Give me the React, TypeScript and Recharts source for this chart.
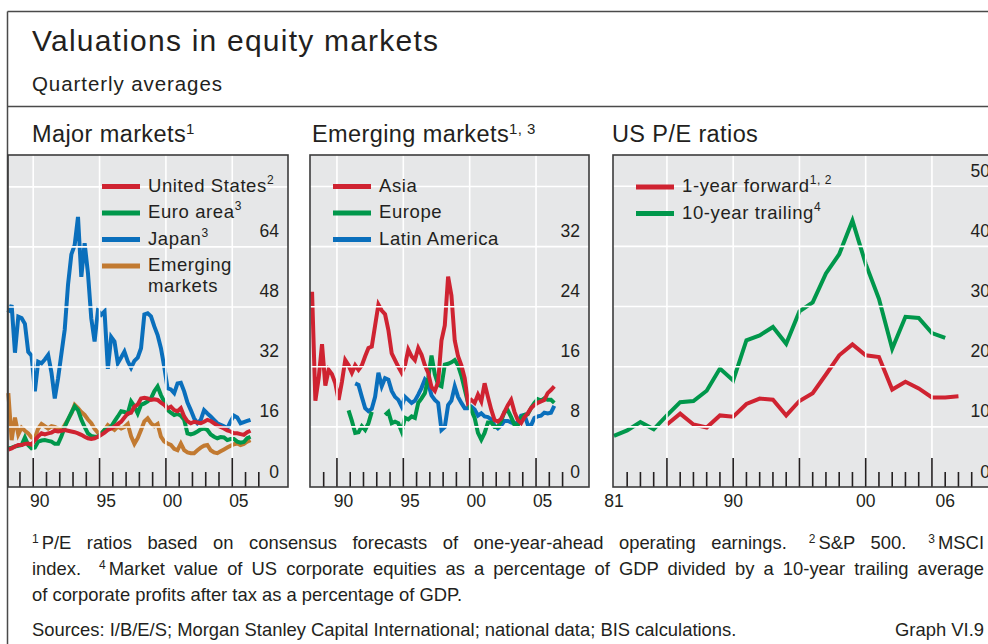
import React from 'react'
import { LineChart, Line, XAxis, YAxis } from 'recharts'

const FONT = '"Liberation Sans", Arial, Helvetica, sans-serif'
const INK = '#231f20'
const RED = '#cf2331'
const GREEN = '#00974b'
const BLUE = '#0a6fbc'
const ORANGE = '#c27a31'
const PANEL_BG = '#e6e7e8'
const BORDER = '#3c3c3c'

// quarterly averages, 1988 Q1 - 2006 Q2
const QUARTER_START = 1988

// Major markets
const unitedStates = [10, 10.3, 10.8, 11.2, 11.2, 11.5, 11.6, 11.3, 12.5, 13.5, 14.3, 14, 14.3, 14.5, 15, 14.8, 15, 15.2, 15, 14.8, 14.6, 14.3, 13.9, 13.4, 13, 12.8, 13, 13.4, 13.9, 14.5, 15.2, 15.6, 16.1, 16.8, 17.4, 18.5, 19.6, 19.8, 21.4, 22, 23.6, 23.8, 23.6, 23.2, 23.4, 23.2, 22.5, 21.9, 21, 21.4, 20.5, 20.2, 21, 18.8, 17.5, 17, 17.4, 17.2, 17, 17.4, 17.9, 17.6, 17, 16.4, 16, 15.6, 15.1, 14.8, 14.3, 14.3, 14.1, 13.9, 14.6, 15]
const euroArea = [10.3, 10.5, 10.8, 11, 11.2, 13.2, 11.2, 10.3, 10.5, 12.1, 12.4, 12.5, 12.3, 12.1, 11.5, 11.5, 13.5, 16, 18, 19.8, 21.5, 20.5, 18, 16, 14.3, 13.6, 13.4, 13.4, 14.2, 15.2, 15.6, 16.1, 17.5, 18.8, 20.2, 20, 19.6, 22.8, 21.5, 19.6, 21.9, 22.3, 22.8, 23.6, 25.5, 26.8, 24.5, 22.8, 20.5, 19.8, 19.2, 19.5, 19, 17.9, 14.3, 14, 14.3, 14.8, 15.4, 15.6, 15.2, 14, 13.4, 13, 13.3, 13.2, 12.5, 12.8, 12.8, 12.1, 11.8, 12, 13, 13.4]
const japan = [46.5, 48.5, 35.8, 45.4, 45, 43.5, 36, 35, 25.5, 33.4, 33, 34, 35.2, 30.5, 23.6, 29, 35.5, 42, 54, 62, 64.5, 72, 56, 65, 57, 45, 38.8, 47, 45.9, 46.8, 31.5, 40, 38.8, 33, 34.5, 36.1, 33.5, 31.8, 33.6, 34.5, 37, 46, 46.3, 45.5, 42.8, 40.5, 37, 32, 26.3, 26, 25, 27.6, 27.8, 25.5, 22.5, 20.5, 18.3, 17, 17.9, 20.5, 19.6, 18.8, 17.9, 17, 16.6, 16.2, 15.6, 17.5, 19, 18.5, 17, 17.3, 17.6, 17.9]
const emergingMarkets = [25, 12.5, 18.5, 14, 15.8, 15, 14.3, 13.2, 13, 15.6, 16.8, 16.2, 15.6, 16.2, 16, 15.6, 15.2, 16.5, 18, 19.6, 21.9, 21, 20, 19.2, 18, 17, 15.5, 14.5, 14.3, 15.2, 16.5, 15.8, 15.2, 16.1, 15.6, 16, 16.8, 13.5, 11.5, 13, 15.2, 17.5, 18.3, 17, 16.2, 16.8, 13.4, 12.1, 11.6, 11.2, 10.2, 9.8, 11.6, 9.8, 9.2, 9, 9, 9.8, 10.5, 11, 11.2, 9.8, 9.2, 9, 9.5, 10, 10.5, 11, 11.4, 11.6, 11.2, 11.5, 12.1, 12.5]

// Emerging markets
const asia = [26, 11.5, 14.5, 19, 13.5, 15.6, 15, 13.8, 11.6, 14, 16.9, 16.2, 15.2, 16.2, 15.6, 16.2, 17.4, 18.5, 18.7, 21.5, 24.3, 23.5, 23, 20.9, 17.8, 16.9, 16, 15.2, 16.2, 18.3, 17.4, 16.9, 18.5, 17.6, 16.2, 15.2, 13.3, 12.8, 14, 19.5, 21.5, 28, 25.5, 19.5, 17.4, 16.2, 14.5, 11.2, 11.6, 11.2, 12.3, 11.4, 13.8, 12, 10.3, 8.9, 8.7, 9.1, 10, 10.9, 11.6, 10, 8.9, 8.5, 9.3, 9.8, 10.5, 10.9, 11.2, 11.4, 11.6, 12.5, 12.9, 13.4]
const europe = [null, null, null, null, null, null, null, null, null, null, null, 10.2, 8.8, 7.2, 7.3, 8.1, 7.6, 8.5, 10, null, null, null, 9.6, 10, 8.5, 8.7, 8.5, 7.4, 9.2, 9, 9.4, 9.2, 11.2, 11.8, 12.5, 14.5, 17.5, 15, 13.6, 13.4, 16.3, 16.4, 16.6, 16.9, 16.2, 14.8, 13, 11.2, 10.2, 9.2, 7.2, 6.3, 7.2, 8.6, 8.6, 8, 8, 8.8, 10, 10.2, 9.3, 8.3, 8.2, 9.2, 9.6, 9.7, 10.5, 11.2, 11.7, 11.5, 11.8, 11.6, 11.6, 11.2]
const latinAmerica = [null, null, null, null, null, null, null, null, null, null, null, null, null, 13.8, 13.6, 12, 10.5, 10.1, 10.4, 12, 15.2, 13.4, 14.5, 14.3, 12.8, 12, 11.6, 10.7, 12, 11.6, 11.2, 11.5, 12.3, 13.2, 14.3, 13.8, 12.2, 11.6, 11.2, 7.6, 8, 10.9, 11.5, 13.4, 12, 11.2, 10.5, 10.5, 10.7, 10.3, 9.5, 9.8, 9.4, 9.3, 9, 8.2, 7.8, 8.2, 8.8, 8.8, 8.6, 8.4, 8.6, 9.5, 9.6, 8.3, 8.2, 9.2, 9.4, 9.5, 9.9, 9.8, 9.9, 10.8]

// US P/E ratios, annual
const usYears = [1981, 1982, 1983, 1984, 1985, 1986, 1987, 1988, 1989, 1990, 1991, 1992, 1993, 1994, 1995, 1996, 1997, 1998, 1999, 2000, 2001, 2002, 2003, 2004, 2005, 2006, 2007]
const forward1y = [null, null, null, null, 10.4, 12.2, 10.4, 9.9, 11.9, 11.7, 13.8, 14.7, 14.5, 11.9, 14.3, 15.6, 18.7, 21.9, 23.7, 21.9, 21.6, 16.2, 17.5, 16.4, 14.9, 14.9, 15.1]
const trailing10y = [8.5, 9.4, 10.8, 9.6, 11.9, 14.1, 14.3, 16, 19.7, 17.7, 24.4, 25.2, 26.6, 23.8, 29.2, 30.7, 35.5, 38.7, 44.3, 37.1, 31.3, 23, 28.3, 28.1, 25.6, 24.8, null]

const quarterX = (i: number) => QUARTER_START + i / 4 + 0.125

const majorData = unitedStates.map((v, i) => ({ x: quarterX(i), us: v, euro: euroArea[i], japan: japan[i], em: emergingMarkets[i] }))
const emergingData = asia.map((v, i) => ({ x: quarterX(i), asia: v, europe: europe[i], latam: latinAmerica[i] }))
const usData = usYears.map((y, i) => ({ x: y, fwd: forward1y[i], trail: trailing10y[i] }))

const PLOT_TOP = 155
const PLOT_H = 332
const AXIS_H = 34
const PAD = 16

const quarterTicks = [1989, 1990, 1991, 1992, 1993, 1994, 1995, 1996, 1997, 1998, 1999, 2000, 2001, 2002, 2003, 2004, 2005, 2006, 2007]
const annualTicks = [1981, 1982, 1983, 1984, 1985, 1986, 1987, 1988, 1989, 1990, 1991, 1992, 1993, 1994, 1995, 1996, 1997, 1998, 1999, 2000, 2001, 2002, 2003, 2004, 2005, 2006, 2007, 2008]

// year ticks: short/tall marks pointing up into the plot, white grid line on the 5-year marks
function makeXTick(labels: number[], shift: number, edge: number | null) {
  return (props: any) => {
    const { x, payload } = props
    const v = payload.value as number
    const tall = v % 5 === 0
    return (
      <g>
        {tall && <line x1={x} x2={x} y1={0} y2={PLOT_H} stroke="#ffffff" strokeWidth={1.6} />}
        {v !== edge && (
          <line x1={x} x2={x} y1={PLOT_H} y2={PLOT_H - (tall ? 29 : 15)} stroke={INK} strokeWidth={1.6} />
        )}
        {labels.includes(v) && (
          <text x={x + shift} y={PLOT_H + 20} textAnchor="middle" fontSize={17.5} fill={INK} fontFamily={FONT}>
            {String(v).slice(2)}
          </text>
        )}
      </g>
    )
  }
}

// value ticks: white grid line plus label sitting just above it, right aligned
function makeYTick(labels: number[], right: number) {
  return (props: any) => {
    const { y, payload } = props
    const v = payload.value as number
    return (
      <g>
        {v > 0 && <line x1={PAD} x2={right + 9} y1={y} y2={y} stroke="#ffffff" strokeWidth={1.6} />}
        {labels.includes(v) && (
          <text x={right} y={y - 9.5} textAnchor="end" fontSize={17.5} fill={INK} fontFamily={FONT}>
            {v}
          </text>
        )}
      </g>
    )
  }
}

interface Series { key: string; color: string }

interface PanelProps {
  left: number
  width: number
  data: any[]
  xDomain: [number, number]
  xTicks: number[]
  xLabels: number[]
  labelShift: number
  edgeTick: number | null
  yMax: number
  yTicks: number[]
  yLabels: number[]
  series: Series[]
}

function Panel(p: PanelProps) {
  const w = p.width + PAD
  return (
    <div style={{ position: 'absolute', left: p.left - PAD, top: PLOT_TOP, width: w, height: PLOT_H + AXIS_H }}>
      <LineChart width={w} height={PLOT_H + AXIS_H} data={p.data} margin={{ top: 0, right: 0, bottom: 0, left: PAD }}>
        <YAxis
          type="number"
          domain={[0, p.yMax]}
          ticks={p.yTicks}
          interval={0}
          orientation="right"
          mirror
          axisLine={false}
          tickLine={false}
          tick={makeYTick(p.yLabels, w - 9)}
        />
        <XAxis
          dataKey="x"
          type="number"
          domain={p.xDomain}
          ticks={p.xTicks}
          interval={0}
          height={AXIS_H}
          tickSize={0}
          tickMargin={0}
          axisLine={false}
          tickLine={false}
          tick={makeXTick(p.xLabels, p.labelShift, p.edgeTick)}
        />
        {p.series.map(s => (
          <Line
            key={s.key}
            type="linear"
            dataKey={s.key}
            stroke={s.color}
            strokeWidth={4}
            dot={false}
            activeDot={false}
            connectNulls={false}
            isAnimationActive={false}
          />
        ))}
      </LineChart>
    </div>
  )
}

const sup = (t: string, size = 12) => (
  <tspan fontSize={size} dy={-8}>{t}</tspan>
)

function LegendRow({ x, y, color, label, note }: { x: number; y: number; color: string; label: string; note?: string }) {
  return (
    <g>
      <rect x={x} y={y - 5} width={38} height={5} fill={color} />
      <text x={x + 46} y={y + 2.5} fontSize={18.5} letterSpacing={0.6} fill={INK} fontFamily={FONT}>
        {label}
        {note && sup(note)}
      </text>
    </g>
  )
}

const noteBase: React.CSSProperties = {
  position: 'absolute',
  left: 32,
  width: 952,
  fontSize: 18.4,
  lineHeight: '20px',
  color: INK,
  fontFamily: FONT,
  whiteSpace: 'nowrap',
}
const noteSup: React.CSSProperties = { fontSize: 12, position: 'relative', top: -6, marginRight: 3 }

export default function App() {
  return (
    <div style={{ position: 'absolute', left: 0, top: 0, width: 988, height: 644, overflow: 'hidden', background: '#fff', fontFamily: FONT }}>
      <svg width={988} height={644} style={{ position: 'absolute', left: 0, top: 0 }}>
        <rect x={8} y={PLOT_TOP} width={280} height={PLOT_H} fill={PANEL_BG} />
        <rect x={310} y={PLOT_TOP} width={279} height={PLOT_H} fill={PANEL_BG} />
        <rect x={613} y={PLOT_TOP} width={386} height={PLOT_H} fill={PANEL_BG} />
      </svg>

      <Panel
        left={8}
        width={280}
        data={majorData}
        xDomain={[1988.1, 2009.2]}
        xTicks={quarterTicks}
        xLabels={[1990, 1995, 2000, 2005]}
        labelShift={6.6}
        edgeTick={null}
        yMax={88.5}
        yTicks={[0, 16, 32, 48, 64, 80]}
        yLabels={[0, 16, 32, 48, 64]}
        series={[
          { key: 'em', color: ORANGE },
          { key: 'japan', color: BLUE },
          { key: 'euro', color: GREEN },
          { key: 'us', color: RED },
        ]}
      />
      <Panel
        left={310}
        width={279}
        data={emergingData}
        xDomain={[1987.97, 2008.99]}
        xTicks={quarterTicks}
        xLabels={[1990, 1995, 2000, 2005]}
        labelShift={6.6}
        edgeTick={null}
        yMax={44.2}
        yTicks={[0, 8, 16, 24, 32, 40]}
        yLabels={[0, 8, 16, 24, 32]}
        series={[
          { key: 'latam', color: BLUE },
          { key: 'europe', color: GREEN },
          { key: 'asia', color: RED },
        ]}
      />
      <Panel
        left={613}
        width={386}
        data={usData}
        xDomain={[1980.93, 2010.06]}
        xTicks={annualTicks}
        xLabels={[1981, 1990, 2000, 2006]}
        labelShift={0}
        edgeTick={1981}
        yMax={55.2}
        yTicks={[0, 10, 20, 30, 40, 50]}
        yLabels={[0, 10, 20, 30, 40, 50]}
        series={[
          { key: 'trail', color: GREEN },
          { key: 'fwd', color: RED },
        ]}
      />

      <svg width={988} height={644} style={{ position: 'absolute', left: 0, top: 0, pointerEvents: 'none' }} fontFamily={FONT}>
        {/* outer frame */}
        <line x1={7.5} y1={11.5} x2={988} y2={11.5} stroke="#4a4a4a" strokeWidth={1.5} />
        <line x1={7.5} y1={11.5} x2={7.5} y2={644} stroke="#4a4a4a" strokeWidth={1.5} />
        <line x1={7.5} y1={106.5} x2={988} y2={106.5} stroke="#4a4a4a" strokeWidth={1.5} />

        {/* plot borders */}
        <rect x={8} y={PLOT_TOP} width={280} height={PLOT_H} fill="none" stroke={BORDER} strokeWidth={1.6} />
        <rect x={310} y={PLOT_TOP} width={279} height={PLOT_H} fill="none" stroke={BORDER} strokeWidth={1.6} />
        <rect x={613} y={PLOT_TOP} width={386} height={PLOT_H} fill="none" stroke={BORDER} strokeWidth={1.6} />

        <text x={32} y={51} fontSize={30} fill={INK} textLength={406} lengthAdjust="spacing">Valuations in equity markets</text>
        <text x={32} y={91} fontSize={20.5} fill={INK} textLength={190} lengthAdjust="spacing">Quarterly averages</text>

        <text x={32} y={142} fontSize={23.5} fill={INK} letterSpacing={0.4}>Major markets{sup('1', 15)}</text>
        <text x={312} y={142} fontSize={23.5} fill={INK} letterSpacing={0.4}>Emerging markets{sup('1, 3', 15)}</text>
        <text x={612} y={142} fontSize={23.5} fill={INK} letterSpacing={0.4}>US P/E ratios</text>

        <LegendRow x={102} y={189} color={RED} label="United States" note="2" />
        <LegendRow x={102} y={215.5} color={GREEN} label="Euro area" note="3" />
        <LegendRow x={102} y={242} color={BLUE} label="Japan" note="3" />
        <LegendRow x={102} y={268.5} color={ORANGE} label="Emerging" />
        <text x={148} y={291.5} fontSize={18.5} letterSpacing={0.6} fill={INK}>markets</text>

        <LegendRow x={333} y={189} color={RED} label="Asia" />
        <LegendRow x={333} y={215.5} color={GREEN} label="Europe" />
        <LegendRow x={333} y={242} color={BLUE} label="Latin America" />

        <LegendRow x={636} y={189.5} color={RED} label="1-year forward" note="1, 2" />
        <LegendRow x={636} y={216} color={GREEN} label="10-year trailing" note="4" />
      </svg>

      {/* footnotes */}
      <div style={{ ...noteBase, top: 532.5, textAlign: 'justify', textAlignLast: 'justify', whiteSpace: 'normal' }}>
        <span style={noteSup}>1</span>P/E ratios based on consensus forecasts of one-year-ahead operating earnings.
        <span style={{ ...noteSup, marginLeft: 22 }}>2</span>S&amp;P 500.
        <span style={{ ...noteSup, marginLeft: 22 }}>3</span>MSCI
      </div>
      <div style={{ ...noteBase, top: 558.5, textAlign: 'justify', textAlignLast: 'justify', whiteSpace: 'normal' }}>
        index.
        <span style={{ ...noteSup, marginLeft: 18 }}>4</span>Market value of US corporate equities as a percentage of GDP divided by a 10-year trailing average
      </div>
      <div style={{ ...noteBase, top: 584.5 }}>of corporate profits after tax as a percentage of GDP.</div>
      <div style={{ ...noteBase, top: 619.5 }}>
        Sources: I/B/E/S; Morgan Stanley Capital International; national data; BIS calculations.
        <span style={{ position: 'absolute', right: 0 }}>Graph VI.9</span>
      </div>
    </div>
  )
}
